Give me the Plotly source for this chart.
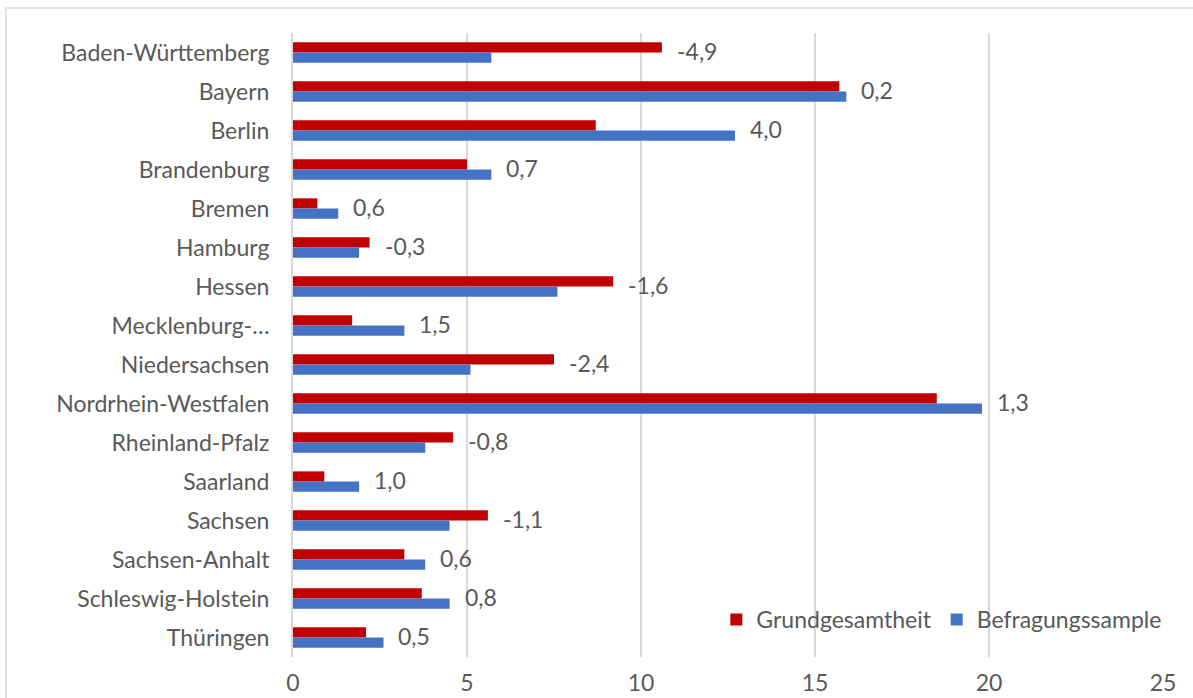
import plotly.graph_objects as go

# Share of each federal state (%): population vs. survey sample
states = [
    "Baden-Württemberg", "Bayern", "Berlin", "Brandenburg", "Bremen",
    "Hamburg", "Hessen", "Mecklenburg-…", "Niedersachsen",
    "Nordrhein-Westfalen", "Rheinland-Pfalz", "Saarland", "Sachsen",
    "Sachsen-Anhalt", "Schleswig-Holstein", "Thüringen",
]
grundgesamtheit = [10.6, 15.7, 8.7, 5.0, 0.7, 2.2, 9.2, 1.7, 7.5,
                   18.5, 4.6, 0.9, 5.6, 3.2, 3.7, 2.1]
befragungssample = [5.7, 15.9, 12.7, 5.7, 1.3, 1.9, 7.6, 3.2, 5.1,
                    19.8, 3.8, 1.9, 4.5, 3.8, 4.5, 2.6]
x_ticks = [0, 5, 10, 15, 20, 25]

RED = "#c00000"
BLUE = "#4472c4"
TEXT = "#595959"
GRID = "#d9d9d9"
FONT = "Lato"
SIZE = 23

fig = go.Figure()
fig.add_trace(go.Bar(
    y=states, x=grundgesamtheit, orientation="h", name="Grundgesamtheit",
    marker=dict(color=RED, line=dict(width=0)),
))
fig.add_trace(go.Bar(
    y=states, x=befragungssample, orientation="h", name="Befragungssample",
    marker=dict(color=BLUE, line=dict(width=0)),
))

# Difference sample minus population, written beside the longer bar
for s, g, b in zip(states, grundgesamtheit, befragungssample):
    diff = round(b - g, 1)
    label = f"{diff:.1f}".replace(".", ",")
    fig.add_annotation(
        x=max(g, b), y=s, text=label, showarrow=False,
        xanchor="left", yanchor="middle", xshift=13, yshift=2,
        font=dict(family=FONT, size=SIZE, color=TEXT),
    )

fig.update_layout(
    width=1193, height=698,
    margin=dict(l=293, r=30, t=33, b=41),
    paper_bgcolor="white", plot_bgcolor="white",
    barmode="group", bargap=0.48, bargroupgap=0,
    font=dict(family=FONT, size=SIZE, color=TEXT),
    showlegend=True,
    legend=dict(
        orientation="h", x=1.005, y=0.06, xanchor="right", yanchor="middle",
        bgcolor="rgba(255,255,255,0)", font=dict(family=FONT, size=SIZE, color=TEXT),
        itemwidth=30, traceorder="normal",
    ),
    xaxis=dict(
        range=[0, 25], tickvals=x_ticks, ticktext=[str(v) for v in x_ticks],
        showgrid=True, gridcolor=GRID, gridwidth=2, zeroline=False,
        showline=False, ticks="outside", ticklen=5, tickcolor="rgba(0,0,0,0)",
        tickfont=dict(family=FONT, size=SIZE, color=TEXT), automargin=False,
    ),
    yaxis=dict(
        autorange="reversed", showgrid=False, zeroline=False,
        showline=True, linecolor=GRID, linewidth=2,
        ticks="outside", ticklen=17, tickcolor="rgba(0,0,0,0)",
        tickfont=dict(family=FONT, size=SIZE, color=TEXT), automargin=False,
    ),
    shapes=[dict(
        type="rect", xref="paper", yref="paper",
        x0=-0.33, x1=1.1, y0=-0.2, y1=1.04,
        line=dict(color=GRID, width=1.5), fillcolor="rgba(0,0,0,0)", layer="below",
    )],
)

fig.write_html("out.html")
